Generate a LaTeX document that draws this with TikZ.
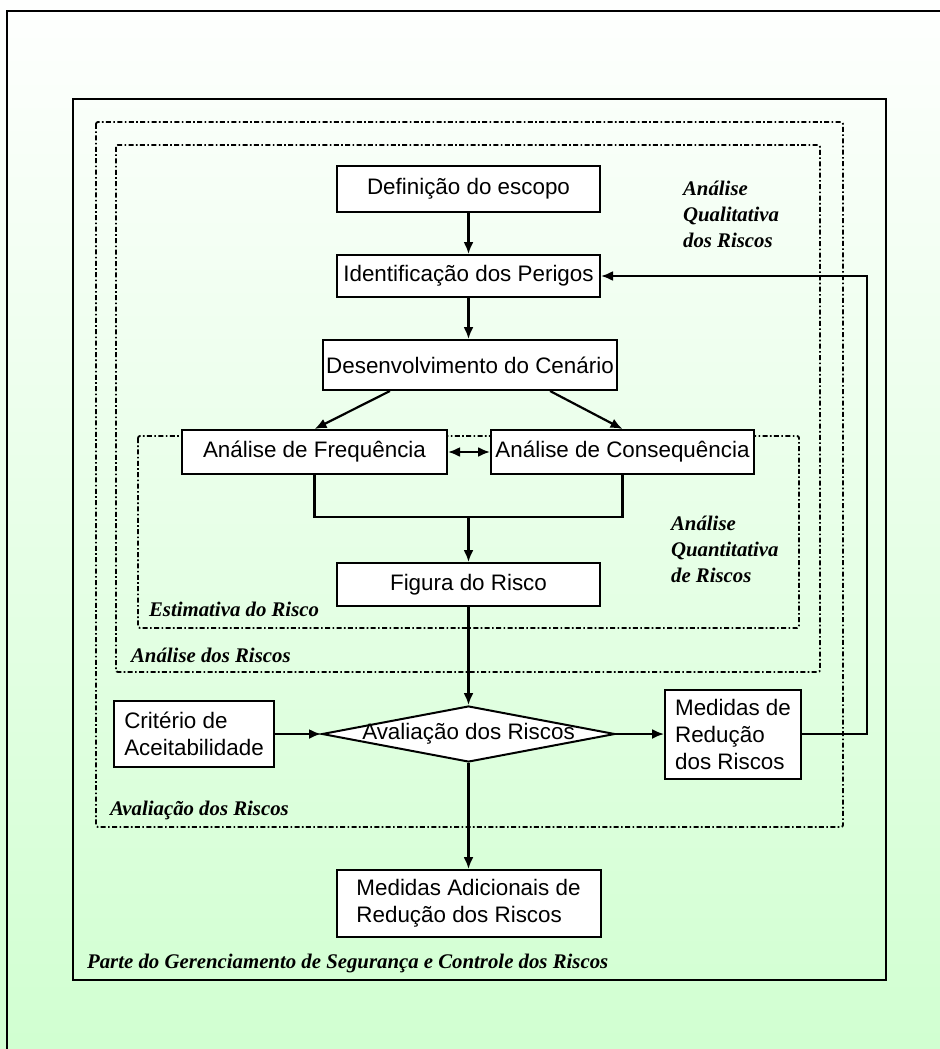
\documentclass[tikz,border=0pt]{standalone}
\usepackage{fontspec}
\setmainfont{Liberation Sans}
\newfontfamily\labelfont{Liberation Serif}
\usetikzlibrary{shapes.geometric,arrows.meta}
\definecolor{bggreen}{RGB}{204,255,204}

\begin{document}
\begin{tikzpicture}[x=50pt,y=-50pt,line width=1.1pt,
  >={Latex[length=6pt,width=5pt]},
  box/.style={draw,fill=white,inner sep=0pt,line width=1pt,font=\fontsize{11.2}{13.5}\selectfont},
  leftbox/.style={box,align=left,inner xsep=5pt},
  decision/.style={diamond,draw,fill=white,inner sep=0pt,line width=1pt,font=\fontsize{11.2}{13.5}\selectfont},
  tag/.style={anchor=base west,inner sep=0pt,align=left,
    font=\labelfont\bfseries\itshape\fontsize{10.4}{13}\selectfont},
  zone/.style={line width=0.9pt,rounded corners=1pt,
    dash pattern=on 2.5pt off 1.2pt on 0.8pt off 1.2pt}]
  \useasboundingbox (0,0) rectangle (9.40,10.49);
  \clip (0,0) rectangle (9.40,10.49);
  \shade [top color=white,bottom color=bggreen] (0,-0.2) rectangle (9.40,11.6);

  % frames
  \draw (0.07,10.6) |- (9.6,0.11);
  \draw (0.73,0.99) rectangle (8.86,9.80);
  \draw [zone] (0.96,1.22) rectangle (8.43,8.27);
  \draw [zone] (1.16,1.45) rectangle (8.20,6.72);
  \draw [zone] (1.38,4.36) rectangle (7.99,6.28);

  \node [box, minimum width=131.5pt, minimum height=23pt]   at (4.685,1.89)  (def)   {Definição do escopo};
  \node [box, minimum width=131.5pt, minimum height=21pt]   at (4.685,2.76)  (ident) {Identificação dos Perigos};
  \node [box, minimum width=147pt,   minimum height=25pt]   at (4.70,3.65)   (des)   {Desenvolvimento do Cenário};
  \node [box, minimum width=132.5pt, minimum height=22pt]   at (3.145,4.52)  (freq)  {Análise de Frequência};
  \node [box, minimum width=131.5pt, minimum height=22pt]   at (6.225,4.52)  (cons)  {Análise de Consequência};
  \node [box, minimum width=131.5pt, minimum height=21.5pt] at (4.685,5.845) (fig)   {Figura do Risco};
  \node [decision, minimum width=146.5pt, minimum height=28pt] at (4.685,7.34) (aval) {\makebox[0pt]{Avaliação dos Riscos}};
  \node [leftbox, minimum width=78pt, minimum height=33pt]  at (1.94,7.34)   (crit)  {Critério de\\Aceitabilidade};
  \node [leftbox, minimum width=66pt, minimum height=44.5pt] at (7.33,7.34)  (medred) {Medidas de\\Redução\\dos Riscos};
  \node [leftbox, minimum width=132pt, minimum height=33.5pt] at (4.685,9.035) (medad) {Medidas Adicionais de\\Redução dos Riscos};

  \coordinate (join) at (4.685,5.17);

  \draw [->] (def.south) -- (ident.north);
  \draw [->] (ident.south) -- (ident.south |- des.north);
  \draw [->] (des.198) -- (freq.north);
  \draw [->] (des.-18) -- (cons.north);
  \draw [<->] (freq) -- (cons);
  \draw (freq.south) |- (join) -| (cons.south);
  \draw [->] (join) -- (fig.north);
  \draw [->] (fig.south) -- (aval.north);
  \draw [->] (crit.east) -- (aval.west);
  \draw [->] (aval.east) -- (medred.west);
  \draw [->] (medred.east) -- ++(0.65,0) |- (ident.east);
  \draw [->] (aval.south) -- (medad.north);

  % multi-line tags sit on their last baseline
  \node [tag] at (6.82,2.47) (qual)   {Análise\\Qualitativa\\dos Riscos};
  \node [tag] at (6.70,5.82) (quant)  {Análise\\Quantitativa\\de Riscos};
  \node [tag] at (1.48,6.16) (estim)  {Estimativa do Risco};
  \node [tag] at (1.30,6.62) (analise) {Análise dos Riscos};
  \node [tag] at (1.09,8.15) (avalt)  {Avaliação dos Riscos};
  \node [tag] at (0.86,9.68) (parte)  {Parte do Gerenciamento de Segurança e Controle dos Riscos};
\end{tikzpicture}
\end{document}
